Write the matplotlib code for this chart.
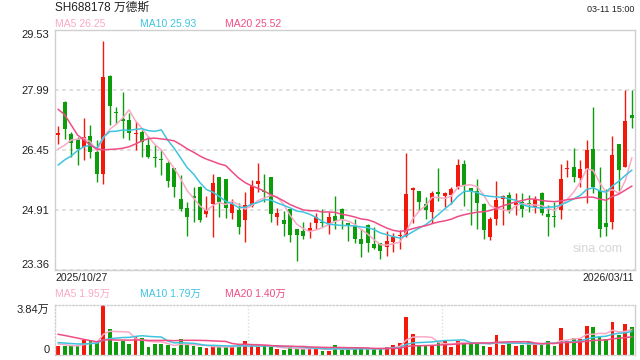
import matplotlib
matplotlib.use("Agg")
import matplotlib.pyplot as plt
import numpy as np
import pandas as pd

plt.rcParams['font.family'] = ['Liberation Sans', 'Noto Sans CJK SC', 'DejaVu Sans']

# daily candles, 2025/10/27 .. 2026/03/11
opens = [26.82, 27.68, 26.86, 26.72, 26.51, 26.80, 26.40, 25.83, 28.35, 27.43,
         27.22, 27.22, 26.86, 26.91, 26.57, 26.27, 26.21, 26.12, 25.97, 25.19,
         24.95, 25.24, 25.50, 24.79, 25.05, 25.75, 25.70, 24.83, 24.90, 24.65,
         25.01, 25.58, 25.38, 25.75, 24.73, 24.65, 24.93, 24.41, 24.35, 24.36,
         24.58, 24.58, 24.58, 24.75, 24.93, 24.57, 24.50, 24.15, 24.52, 24.03,
         24.05, 23.96, 24.08, 24.23, 24.24, 25.42, 25.39, 25.06, 24.86, 25.37,
         25.26, 25.29, 25.49, 26.09, 25.46, 25.39, 25.06, 24.22, 24.68, 25.19,
         25.29, 25.04, 25.12, 25.07, 24.99, 25.33, 24.80, 24.75, 24.89, 25.95,
         26.02, 25.73, 25.96, 26.47, 25.40, 24.58, 24.60, 26.60, 26.02, 27.35]
highs = [27.07, 27.70, 26.92, 26.77, 27.28, 27.08, 26.70, 29.25, 28.37, 27.54,
         27.94, 27.39, 27.20, 26.96, 26.80, 26.57, 26.46, 26.15, 25.98, 25.79,
         25.11, 25.50, 25.51, 25.27, 25.82, 25.76, 25.71, 25.18, 25.09, 25.36,
         25.67, 26.10, 25.83, 25.76, 24.95, 24.88, 24.94, 24.42, 24.59, 24.59,
         24.83, 24.93, 24.86, 25.26, 24.96, 24.58, 24.67, 24.41, 24.53, 24.46,
         24.06, 24.35, 24.30, 24.39, 26.38, 25.50, 25.40, 25.23, 25.39, 25.97,
         25.37, 25.50, 26.21, 26.19, 25.47, 25.69, 25.07, 24.71, 25.66, 25.29,
         25.37, 25.33, 25.33, 25.30, 25.27, 25.36, 25.03, 25.12, 26.09, 26.19,
         26.50, 26.19, 26.70, 27.54, 26.00, 25.44, 26.80, 26.61, 27.99, 27.99]
lows = [26.59, 26.72, 26.27, 26.06, 26.19, 26.23, 25.61, 25.57, 27.10, 27.11,
        26.75, 26.70, 26.45, 26.26, 26.25, 26.00, 25.80, 25.50, 25.23, 24.88,
        24.24, 24.59, 24.59, 24.72, 24.22, 24.73, 24.70, 24.66, 24.29, 24.07,
        24.98, 25.36, 25.10, 24.60, 24.52, 24.23, 24.09, 23.60, 24.16, 24.19,
        24.41, 24.46, 24.29, 24.41, 24.41, 24.11, 24.06, 23.69, 23.83, 23.90,
        23.64, 23.73, 23.81, 23.90, 24.22, 24.58, 24.90, 24.68, 24.56, 25.14,
        24.99, 25.06, 25.43, 25.01, 24.52, 24.41, 24.15, 24.13, 24.52, 24.52,
        24.82, 24.77, 24.73, 24.86, 24.82, 24.77, 24.24, 24.46, 24.66, 25.76,
        25.61, 25.49, 25.09, 25.35, 24.20, 24.24, 24.41, 25.40, 26.00, 27.02]
closes = [26.89, 26.99, 26.62, 26.48, 26.77, 26.40, 25.83, 28.32, 27.58, 27.40,
          27.20, 26.89, 26.88, 26.65, 26.27, 26.24, 26.19, 25.66, 25.50, 24.93,
          24.73, 25.22, 24.65, 24.89, 25.60, 25.12, 24.95, 25.06, 24.47, 25.03,
          25.53, 25.65, 25.37, 24.81, 24.83, 24.53, 24.27, 24.27, 24.24, 24.44,
          24.73, 24.56, 24.71, 24.63, 24.67, 24.51, 24.16, 24.04, 24.06, 23.93,
          23.86, 24.11, 24.22, 24.25, 25.31, 25.47, 25.12, 24.90, 25.33, 25.31,
          25.33, 25.43, 26.06, 25.55, 25.39, 25.09, 24.39, 24.67, 25.16, 25.25,
          24.90, 25.09, 24.93, 25.05, 25.19, 24.82, 24.71, 24.71, 25.70, 25.96,
          25.74, 25.96, 26.45, 25.50, 24.41, 24.47, 26.32, 25.93, 27.19, 27.28]
# volume in 万 shares
volumes = [0.69, 0.69, 0.69, 0.77, 1.15, 1.15, 1.02, 3.84, 1.97, 1.02,
           1.10, 0.84, 1.41, 1.33, 0.64, 0.84, 0.84, 0.77, 0.51, 1.20,
           0.77, 0.69, 0.59, 0.51, 0.69, 0.64, 0.64, 0.64, 0.69, 1.08,
           0.69, 0.64, 0.69, 0.59, 0.44, 0.38, 0.64, 0.44, 0.44, 0.51,
           0.51, 0.33, 0.33, 0.77, 0.38, 0.44, 0.51, 0.51, 0.51, 0.44,
           0.51, 0.59, 0.77, 0.95, 2.92, 1.61, 0.74, 0.74, 0.74, 1.00,
           1.08, 0.64, 1.08, 1.02, 0.90, 0.97, 0.69, 0.64, 1.54, 0.77,
           0.90, 0.69, 0.77, 1.02, 0.77, 0.82, 1.08, 0.69, 2.07, 1.08,
           1.28, 1.23, 2.23, 2.15, 1.41, 1.20, 2.53, 1.54, 2.38, 2.15]

# moving-average values at the start of the window (they depend on days before it)
ma5_head = [26.47, 26.57, 26.70, 26.72]
ma10_head = [26.06, 26.19, 26.29, 26.43, 26.53, 26.57, 26.49, 26.77, 26.92]
ma20_head = [27.49, 27.35, 27.09, 26.83, 26.70, 26.57, 26.47, 26.45, 26.46, 26.47,
             26.49, 26.53, 26.60, 26.68, 26.74, 26.75, 26.73, 26.71, 26.68]
vma5_head = [0.85, 0.80, 0.72, 0.70]
vma10_head = [0.95, 0.92, 0.88, 0.85, 0.85, 0.88, 0.90, 1.15, 1.25]
vma20_head = [1.59, 1.50, 1.40, 1.30, 1.20, 1.10, 1.02, 1.15, 1.17, 1.15,
              1.15, 1.14, 1.15, 1.15, 1.12, 1.12, 1.12, 1.12, 1.10]

# values printed in the header legends
ma_names = ['MA5', 'MA10', 'MA20']
price_ma_text = ['26.25', '25.93', '25.52']
vol_ma_text = ['1.95万', '1.79万', '1.40万']

price_ticks = [23.36, 24.91, 26.45, 27.99, 29.53]
price_labels = ['23.36', '24.91', '26.45', '27.99', '29.53']
vol_top = 3.84
start_date = '2025/10/27'
end_date = '2026/03/11'

RED = '#f2190b'
GREEN = '#0c9c0c'
C5 = '#f9a9c6'
C10 = '#3fc4de'
C20 = '#ee4d86'
GRID = '#dcdcdc'
EDGE = '#cfcfcf'
TXT = '#222222'


def with_head(series, n, head):
    ma = pd.Series(series).rolling(n).mean().to_numpy()
    ma[:len(head)] = head
    return ma


df = pd.DataFrame({'open': opens, 'high': highs, 'low': lows, 'close': closes, 'vol': volumes})
x = np.arange(len(df))
up = df['close'] >= df['open']
colors = np.where(up, RED, GREEN)

fig = plt.figure(figsize=(6.4, 3.6), dpi=100)
ax = fig.add_axes([55 / 640, 90 / 360, 580 / 640, 240 / 360])
axv = fig.add_axes([55 / 640, 5 / 360, 580 / 640, 50 / 360])

# candles
ax.vlines(x, df['low'], df['high'], colors=colors, linewidth=1.0, zorder=2)
body_low = np.minimum(df['open'], df['close'])
body_h = np.maximum(np.abs(df['close'] - df['open']), 0.03)
ax.bar(x, body_h, bottom=body_low, width=0.62, color=colors, linewidth=0, zorder=3)

ax.plot(x, with_head(closes, 5, ma5_head), color=C5, lw=1.1, zorder=4)
ax.plot(x, with_head(closes, 10, ma10_head), color=C10, lw=1.1, zorder=4)
ax.plot(x, with_head(closes, 20, ma20_head), color=C20, lw=1.1, zorder=4)

ax.set_xlim(-0.5, len(df) - 0.5)
ax.set_ylim(price_ticks[0], price_ticks[-1])
ax.set_xticks([])
ax.set_yticks(price_ticks)
ax.set_yticklabels(price_labels, fontsize=8, color=TXT)
ax.tick_params(axis='y', length=0, pad=4)
ylabs = ax.get_yticklabels()
ylabs[0].set_va('bottom')
ylabs[-1].set_va('top')
ax.grid(True, axis='y', color=GRID, linestyle=(0, (2, 2)), linewidth=1.3)
ax.set_axisbelow(True)
for s in ax.spines.values():
    s.set_color(EDGE)
    s.set_linewidth(1.0)

ax.text(0.979, 0.0875, 'sina.com', transform=ax.transAxes, ha='right', va='center',
        fontsize=9, color='#d6d6d6')

# volume
axv.bar(x, df['vol'], width=0.6, color=colors, linewidth=0, zorder=2)
axv.plot(x, with_head(volumes, 5, vma5_head), color=C5, lw=1.1, zorder=3)
axv.plot(x, with_head(volumes, 10, vma10_head), color=C10, lw=1.1, zorder=3)
axv.plot(x, with_head(volumes, 20, vma20_head), color=C20, lw=1.1, zorder=3)
axv.set_xlim(-0.5, len(df) - 0.5)
axv.set_ylim(0, vol_top)
xl = axv.get_xlim()
for frac in (1 / 3, 2 / 3):
    axv.axvline(xl[0] + (xl[1] - xl[0]) * frac, color=GRID, linestyle=(0, (1, 1.5)), lw=1.0, zorder=1)
axv.set_xticks([])
axv.set_yticks([0, vol_top])
axv.set_yticklabels(['0', f'{vol_top:.2f}万'], fontsize=8, color=TXT)
axv.tick_params(axis='y', length=0, pad=4)
vlabs = axv.get_yticklabels()
vlabs[0].set_va('bottom')
vlabs[1].set_va('top')
for name, s in axv.spines.items():
    s.set_color(EDGE)
    s.set_linewidth(1.0)
    if name != 'right':
        s.set_linestyle((0, (1, 1.5)))

# header texts
def px(xp, yp):
    return xp / 640, 1 - yp / 360

fig.text(*px(55, 8), 'SH688178 万德斯', fontsize=8.5, color=TXT, ha='left', va='center')
fig.text(*px(634, 9), '03-11 15:00', fontsize=6.5, color=TXT, ha='right', va='center')

for xp, name, col, v, vv in zip((55, 140, 225), ma_names, (C5, C10, C20), price_ma_text, vol_ma_text):
    fig.text(*px(xp, 24), f'{name} {v}', fontsize=7.5, color=col, ha='left', va='center')
    fig.text(*px(xp, 294), f'{name} {vv}', fontsize=7.5, color=col, ha='left', va='center')

fig.text(*px(55, 278), start_date, fontsize=7.5, color=TXT, ha='left', va='center')
fig.text(*px(634, 278), end_date, fontsize=7.5, color=TXT, ha='right', va='center')

fig.savefig('out.png', dpi=100)
